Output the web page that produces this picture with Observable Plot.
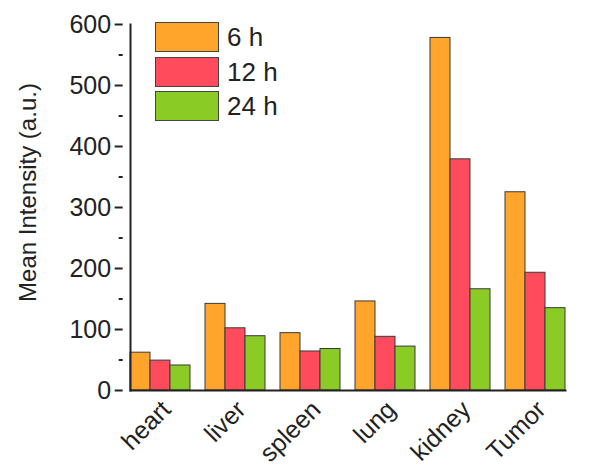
<!DOCTYPE html>
<html>
<head>
<meta charset="utf-8">
<script src="https://cdn.jsdelivr.net/npm/d3@7"></script>
<script src="https://cdn.jsdelivr.net/npm/@observablehq/plot@0.6"></script>
<style>
  html, body { margin: 0; padding: 0; background: #fff; }
  #wrap { position: relative; width: 598px; height: 468px; font-family: "Liberation Sans", Arial, sans-serif; color: #222; }
  #legend { position: absolute; left: 155px; top: 22px; }
  .row { display: flex; align-items: center; height: 30px; margin-bottom: 4.7px; }
  .sw { width: 62px; height: 28px; border: 1px solid #444; }
  .lab { margin-left: 8px; font-size: 26px; line-height: 30px; }
</style>
</head>
<body>
<div id="wrap"><div id="legend"></div></div>
<script>
const organs = ["heart", "liver", "spleen", "lung", "kidney", "Tumor"];
const series = ["6 h", "12 h", "24 h"];
const values6h  = [62, 142, 94, 146, 578, 325];
const values12h = [49, 102, 64, 88, 379, 193];
const values24h = [41, 89, 68, 72, 166, 135];
const colors = ["#FFA52B", "#FF4B5B", "#8ACB26"];
const yTicks = [0, 100, 200, 300, 400, 500, 600];
const yMinorTicks = [50, 150, 250, 350, 450, 550];
const yLabel = "Mean Intensity (a.u.)";

const seriesValues = [values6h, values12h, values24h];
const data = [];
organs.forEach((o, i) => series.forEach((s, j) => data.push({organ: o, time: s, value: seriesValues[j][i]})));

const marginLeft = 122, width = 598;
const fxOpts = {domain: organs, paddingInner: 0.194, paddingOuter: 0.256, align: 0.19, label: null};
// offset of the first facet from the frame's left edge, so the y axis sits on the frame edge
const fxProbe = d3.scaleBand(organs, [marginLeft, width]).paddingInner(fxOpts.paddingInner).paddingOuter(fxOpts.paddingOuter).align(fxOpts.align);
const firstOffset = fxProbe(organs[0]) - marginLeft;

const chart = Plot.plot({
  width, height: 468,
  marginLeft, marginRight: 0, marginTop: 24, marginBottom: 78,
  style: {fontFamily: "'Liberation Sans', Arial, sans-serif", color: "#222", background: "white", overflow: "visible"},
  fx: fxOpts,
  x: {domain: series, padding: 0, axis: null},
  y: {domain: [0, 600], label: null},
  color: {domain: series, range: colors},
  marks: [
    Plot.barY(data, {fx: "organ", x: "time", y: "value", fill: "time", stroke: "#3a3a3a", strokeWidth: 1}),
    Plot.axisY({ticks: yTicks, tickSize: 8, tickPadding: 4, fontSize: 25, tickFormat: d => String(d), strokeWidth: 2, label: null, dx: -firstOffset}),
    Plot.axisY({ticks: yMinorTicks, tickSize: 4, tickFormat: () => "", strokeWidth: 2, label: null, dx: -firstOffset}),
    Plot.frame({facet: "super", anchor: "left", strokeWidth: 2}),
    Plot.frame({facet: "super", anchor: "bottom", strokeWidth: 2}),
    Plot.axisFx({anchor: "bottom", tickSize: 0, tickRotate: -45, fontSize: 25, tickPadding: 15, dx: 6, label: null}),
    Plot.text([yLabel], {facet: "super", frameAnchor: "left", textAnchor: "middle", text: d => d, rotate: -90, dx: -102, dy: -15, fontSize: 24})
  ]
});
document.getElementById("wrap").prepend(chart);

const legend = document.getElementById("legend");
series.forEach((s, j) => {
  const row = document.createElement("div");
  row.className = "row";
  const sw = document.createElement("div");
  sw.className = "sw";
  sw.style.background = colors[j];
  const lab = document.createElement("span");
  lab.className = "lab";
  lab.textContent = s;
  row.append(sw, lab);
  legend.append(row);
});
</script>
</body>
</html>
